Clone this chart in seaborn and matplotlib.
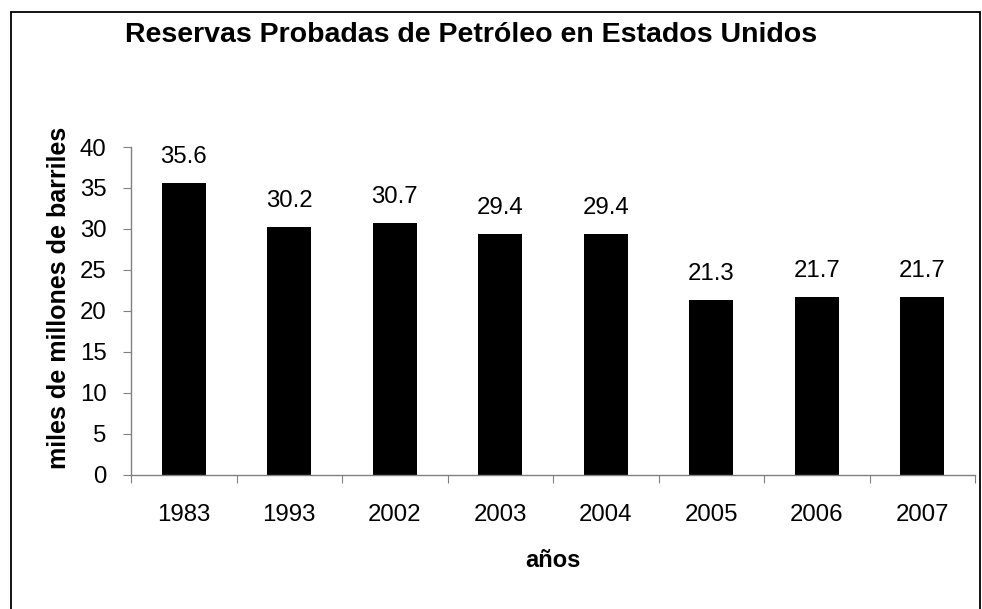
import matplotlib
matplotlib.use("Agg")
import matplotlib.pyplot as plt
import seaborn as sns
import pandas as pd
from matplotlib.lines import Line2D
from matplotlib.ticker import FixedLocator

years = ["1983", "1993", "2002", "2003", "2004", "2005", "2006", "2007"]
reserves = [35.6, 30.2, 30.7, 29.4, 29.4, 21.3, 21.7, 21.7]
yticks = [0, 5, 10, 15, 20, 25, 30, 35, 40]

title = "Reservas Probadas de Petróleo en Estados Unidos"
ylabel = "miles de millones de barriles"
xlabel = "años"

sns.set_theme(style="white")
plt.rcParams['font.family'] = ['Liberation Sans', 'DejaVu Sans']

df = pd.DataFrame({"year": years, "value": reserves})

W, H = 982, 609
fig = plt.figure(figsize=(W / 100, H / 100), dpi=100)
fig.patch.set_facecolor("white")
ax = fig.add_axes([131 / W, 1 - 474.5 / H, (975 - 131) / W, (474.5 - 147) / H])

sns.barplot(data=df, x="year", y="value", color="black", width=0.42,
            saturation=1, ax=ax, edgecolor="black", linewidth=0)

ax.set_ylim(0, 40)
ax.set_xlim(-0.5, len(years) - 0.5)
ax.set_yticks(yticks)
ax.set_yticklabels([str(t) for t in yticks])

gray = "#808080"
for s in ["top", "right"]:
    ax.spines[s].set_visible(False)
for s in ["left", "bottom"]:
    ax.spines[s].set_color(gray)
    ax.spines[s].set_linewidth(1.0)

fs = 17.3
ax.tick_params(axis="y", which="major", direction="out", length=5.5, width=0.8,
               color=gray, labelsize=fs, pad=12, left=True, labelcolor="black")
ax.tick_params(axis="x", which="major", length=0, labelsize=fs, pad=21.5,
               labelcolor="black")
ax.xaxis.set_minor_locator(FixedLocator([i - 0.5 for i in range(len(years) + 1)]))
ax.tick_params(axis="x", which="minor", direction="out", length=5.5, width=0.8,
               color=gray, bottom=True)

for i, v in enumerate(reserves):
    ax.annotate(f"{v:.1f}", (i, v), xytext=(0, 11), textcoords="offset points",
                ha="center", va="bottom", fontsize=fs, color="black")

ax.set_xlabel(xlabel, fontsize=17, fontweight="bold", color="black")
ax.set_ylabel(ylabel, fontsize=18, fontweight="bold", color="black")
ax.xaxis.set_label_coords(0.5, -0.2275)
ax.yaxis.set_label_coords(-0.071, 0.54)

fig.text(471 / W, 1 - 35 / H, title, ha="center", va="center",
         fontsize=20.5, fontweight="bold", color="black")

# outer chart border (bottom edge cropped off)
lw = 1.3
fig.add_artist(Line2D([10.5 / W, 10.5 / W], [0, 1 - 12 / H], transform=fig.transFigure, color="black", lw=lw))
fig.add_artist(Line2D([10.5 / W, 980 / W], [1 - 12 / H, 1 - 12 / H], transform=fig.transFigure, color="black", lw=lw))
fig.add_artist(Line2D([980 / W, 980 / W], [0, 1 - 12 / H], transform=fig.transFigure, color="black", lw=lw))

fig.savefig("out.png", dpi=100, facecolor="white")
